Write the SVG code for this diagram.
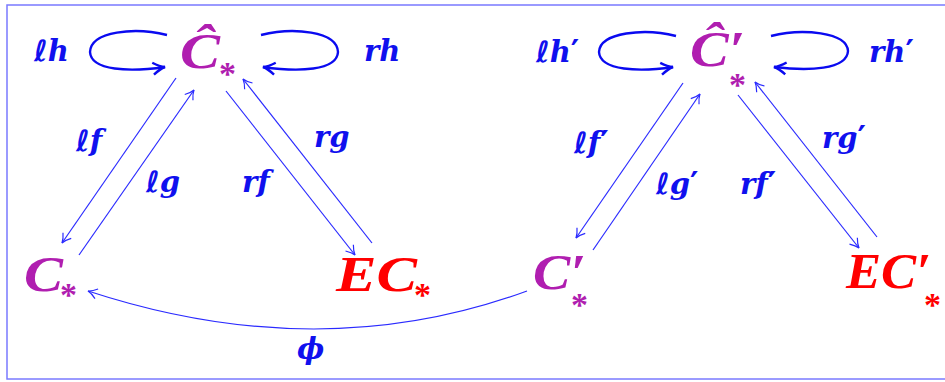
<svg xmlns="http://www.w3.org/2000/svg" width="945" height="382" viewBox="0 0 945 382">
<style>
.lbl{font-family:"DejaVu Serif","Liberation Serif",serif;font-style:italic;font-weight:bold;fill:#1010ee;font-size:29px}
.ell{font-family:"DejaVu Sans",sans-serif;font-weight:bold}
.pr{font-family:"DejaVu Sans",sans-serif;font-style:normal;font-weight:bold;font-size:32px}
.node{font-family:"Liberation Serif","DejaVu Serif",serif;font-style:italic;font-weight:bold;font-size:50px}
.mag{fill:#b01eb0}
.red{fill:#ff0000}
.sub{font-family:"Liberation Serif","DejaVu Serif",serif;font-weight:bold;font-size:34px}
.ar{fill:none;stroke:#2a2aff;stroke-width:1.2}
.loop{fill:none;stroke:#0a0af0;stroke-width:2.4}
</style>
<defs>
<marker id="a" viewBox="-10 -6 12 12" markerWidth="12" markerHeight="12" refX="0" refY="0" orient="auto" markerUnits="userSpaceOnUse">
<path d="M-9,-5 Q-4,-1 0,0 Q-4,1 -9,5" fill="none" stroke="#2a2aff" stroke-width="1.2"/>
</marker>
<marker id="b" viewBox="-14 -8 16 16" markerWidth="16" markerHeight="16" refX="0" refY="0" orient="auto" markerUnits="userSpaceOnUse">
<path d="M-12,-6 Q-5,-1 0,0 Q-5,1 -12,6" fill="none" stroke="#0a0af0" stroke-width="2.4"/>
</marker>
</defs>
<rect x="7" y="5" width="960" height="374" fill="none" stroke="#7a7aff" stroke-width="1.5"/>

<g id="connectors">
<path class="loop" d="M167,35 C135,27 91,31 90,52 C91,71 130,72 165,67" marker-end="url(#b)"/>
<path class="loop" d="M261,35 C293,27 337,31 338,52 C337,71 298,72 263,67" marker-end="url(#b)"/>
<path class="loop" d="M676,36 C645,28 600,32 599,52 C600,71 640,72 673,67" marker-end="url(#b)"/>
<path class="loop" d="M771,36 C802,28 847,32 848,51 C847,70 808,71 774,67" marker-end="url(#b)"/>
<path class="ar" d="M176,78 L62,243" marker-end="url(#a)"/>
<path class="ar" d="M79,255 L194,90" marker-end="url(#a)"/>
<path class="ar" d="M226,91 L355,255" marker-end="url(#a)"/>
<path class="ar" d="M372,243 L243,79" marker-end="url(#a)"/>
<path class="ar" d="M683,83 L576,238" marker-end="url(#a)"/>
<path class="ar" d="M593,250 L700,94" marker-end="url(#a)"/>
<path class="ar" d="M738,95 L859,248" marker-end="url(#a)"/>
<path class="ar" d="M877,237 L755,82" marker-end="url(#a)"/>
<path class="ar" d="M527,291 Q320,367 88,291" marker-end="url(#a)"/>
</g>

<g id="labels">
<text class="lbl" x="34" y="61"><tspan class="ell">ℓ</tspan>h</text>
<text class="lbl" x="364" y="61">rh</text>
<text class="lbl" x="536" y="62"><tspan class="ell">ℓ</tspan>h<tspan class="pr">′</tspan></text>
<text class="lbl" x="869" y="62">rh<tspan class="pr">′</tspan></text>
<text class="lbl" x="76" y="151"><tspan class="ell">ℓ</tspan>f</text>
<text class="lbl" x="146" y="192"><tspan class="ell">ℓ</tspan>g</text>
<text class="lbl" x="242" y="192">rf</text>
<text class="lbl" x="314" y="147">rg</text>
<text class="lbl" x="574" y="153"><tspan class="ell">ℓ</tspan>f<tspan class="pr">′</tspan></text>
<text class="lbl" x="656" y="194"><tspan class="ell">ℓ</tspan>g<tspan class="pr">′</tspan></text>
<text class="lbl" x="740" y="194">rf<tspan class="pr">′</tspan></text>
<text class="lbl" x="822" y="148">rg<tspan class="pr">′</tspan></text>
<text class="lbl" x="297" y="359">ϕ</text>
</g>

<g id="node-Chat"><text class="node mag" x="180" y="68" textLength="40" lengthAdjust="spacingAndGlyphs">Ĉ</text><text class="sub mag" x="219" y="85">*</text></g>
<g id="node-Chat-prime"><text class="node mag" x="690" y="66" textLength="55" lengthAdjust="spacingAndGlyphs">Ĉ′</text><text class="sub mag" x="729" y="96">*</text></g>
<g id="node-C"><text class="node mag" x="24" y="291" textLength="39" lengthAdjust="spacingAndGlyphs">C</text><text class="sub mag" x="60" y="306">*</text></g>
<g id="node-EC"><text class="node red" x="336" y="291" textLength="81" lengthAdjust="spacingAndGlyphs">EC</text><text class="sub red" x="414" y="306">*</text></g>
<g id="node-C-prime"><text class="node mag" x="533" y="289" textLength="53" lengthAdjust="spacingAndGlyphs">C′</text><text class="sub mag" x="571" y="316">*</text></g>
<g id="node-EC-prime"><text class="node red" x="846" y="288" textLength="85" lengthAdjust="spacingAndGlyphs">EC′</text><text class="sub red" x="924" y="316">*</text></g>
</svg>
